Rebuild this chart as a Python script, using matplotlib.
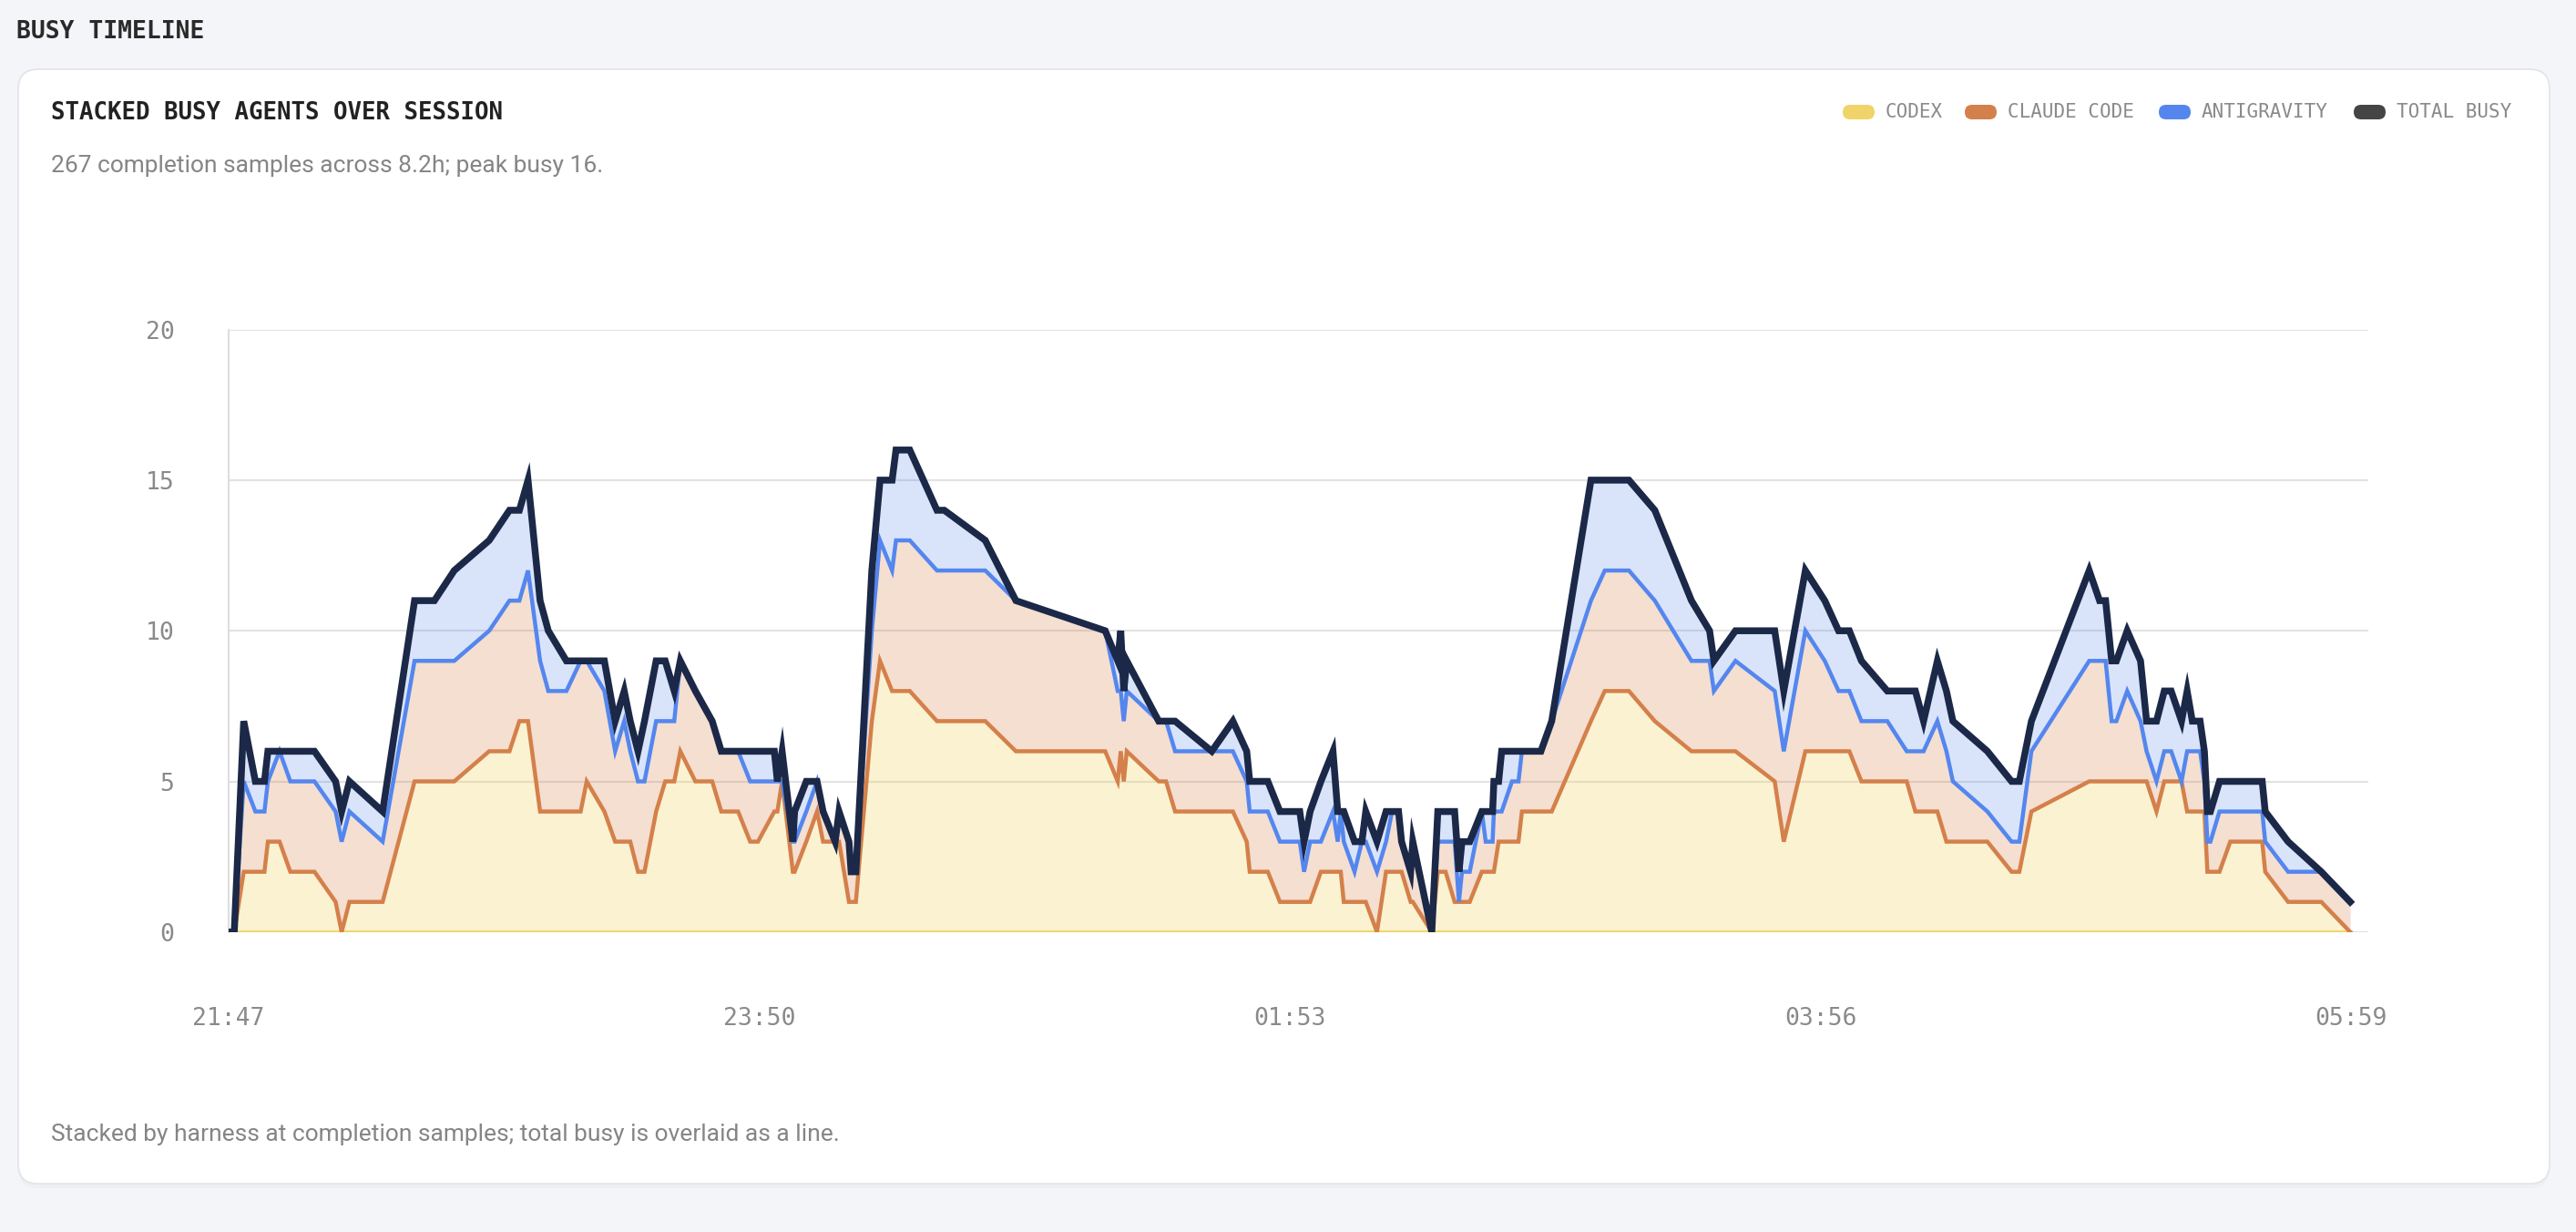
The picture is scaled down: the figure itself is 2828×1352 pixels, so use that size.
import matplotlib
matplotlib.use("Agg")  # headless
import matplotlib.pyplot as plt
from matplotlib.patches import FancyBboxPatch

W, H, DPI = 2828, 1352, 100

# completion samples, minutes after 21:47
minutes = [
    0.0, 1.3, 3.5, 6.2, 8.3, 9.1, 11.8, 14.3, 19.9, 24.8, 26.2, 28.0, 35.7, 43.1, 47.7, 52.3,
    60.4, 65.1, 67.4, 69.4, 72.2, 74.1, 78.3, 81.6, 83.0, 87.1, 89.6, 91.7, 93.1, 94.9, 96.4, 99.1,
    101.2, 103.3, 104.7, 108.2, 112.1, 114.2, 118.1, 120.9, 122.7, 126.5, 127.2, 128.3, 130.8, 131.2, 133.9, 136.4,
    137.8, 140.6, 141.5, 143.8, 144.3, 145.4, 149.1, 151.0, 153.8, 154.7, 157.9, 164.2, 165.9, 175.4, 182.5, 203.2,
    206.1, 206.8, 207.5, 208.2, 215.6, 217.3, 219.4, 227.9, 232.8, 236.0, 236.7, 240.9, 243.7, 248.3, 249.3, 250.7,
    253.2, 256.0, 257.1, 257.8, 258.5, 261.0, 262.7, 263.6, 266.2, 268.3, 269.7, 271.2, 271.9, 274.0, 274.5, 278.9,
    280.3, 282.1, 284.2, 285.2, 285.9, 287.7, 290.5, 291.4, 293.0, 293.3, 294.4, 295.1, 297.5, 299.0, 299.8, 304.2,
    306.7, 315.8, 319.0, 324.6, 330.6, 339.1, 343.3, 344.3, 349.3, 358.4, 360.5, 365.5, 370.0, 373.2, 375.7, 378.5,
    384.5, 389.0, 391.0, 392.9, 396.1, 398.2, 399.7, 407.7, 413.3, 415.1, 417.9, 431.3, 433.7, 435.1, 436.5, 437.6,
    440.1, 443.2, 444.6, 446.9, 448.7, 450.3, 452.7, 454.0, 455.2, 457.0, 458.0, 458.7, 459.4, 461.5, 464.0, 471.4,
    472.1, 477.4, 485.1, 491.8,
]

codex = [
    0, 0, 0, 0, 0, 0, 0, 0, 0, 0, 0, 0, 0, 0, 0, 0,
    0, 0, 0, 0, 0, 0, 0, 0, 0, 0, 0, 0, 0, 0, 0, 0,
    0, 0, 0, 0, 0, 0, 0, 0, 0, 0, 0, 0, 0, 0, 0, 0,
    0, 0, 0, 0, 0, 0, 0, 0, 0, 0, 0, 0, 0, 0, 0, 0,
    0, 0, 0, 0, 0, 0, 0, 0, 0, 0, 0, 0, 0, 0, 0, 0,
    0, 0, 0, 0, 0, 0, 0, 0, 0, 0, 0, 0, 0, 0, 0, 0,
    0, 0, 0, 0, 0, 0, 0, 0, 0, 0, 0, 0, 0, 0, 0, 0,
    0, 0, 0, 0, 0, 0, 0, 0, 0, 0, 0, 0, 0, 0, 0, 0,
    0, 0, 0, 0, 0, 0, 0, 0, 0, 0, 0, 0, 0, 0, 0, 0,
    0, 0, 0, 0, 0, 0, 0, 0, 0, 0, 0, 0, 0, 0, 0, 0,
    0, 0, 0, 0,
]

claude_code = [
    0, 0, 2, 2, 2, 3, 3, 2, 2, 1, 0, 1, 1, 5, 5, 5,
    6, 6, 7, 7, 4, 4, 4, 4, 5, 4, 3, 3, 3, 2, 2, 4,
    5, 5, 6, 5, 5, 4, 4, 3, 3, 4, 4, 5, 2, 2, 3, 4,
    3, 3, 3, 1, 1, 1, 7, 9, 8, 8, 8, 7, 7, 7, 6, 6,
    5, 6, 5, 6, 5, 5, 4, 4, 4, 3, 2, 2, 1, 1, 1, 1,
    2, 2, 2, 2, 1, 1, 1, 1, 0, 2, 2, 2, 2, 1, 1, 0,
    2, 2, 1, 1, 1, 1, 2, 2, 2, 2, 3, 3, 3, 3, 4, 4,
    4, 7, 8, 8, 7, 6, 6, 6, 6, 5, 3, 6, 6, 6, 6, 5,
    5, 5, 4, 4, 4, 3, 3, 3, 2, 2, 4, 5, 5, 5, 5, 5,
    5, 5, 5, 4, 5, 5, 5, 4, 4, 4, 4, 2, 2, 2, 3, 3,
    2, 1, 1, 0,
]

antigravity = [
    0, 0, 3, 2, 2, 2, 3, 3, 3, 3, 3, 3, 2, 4, 4, 4,
    4, 5, 4, 5, 5, 4, 4, 5, 4, 4, 3, 4, 3, 3, 3, 3,
    2, 2, 3, 3, 2, 2, 2, 2, 2, 1, 1, 0, 1, 1, 1, 1,
    1, 0, 1, 2, 1, 1, 3, 4, 4, 5, 5, 5, 5, 5, 5, 4,
    3, 2, 2, 2, 2, 2, 2, 2, 2, 2, 2, 2, 2, 2, 1, 2,
    1, 2, 1, 2, 2, 1, 2, 2, 2, 1, 2, 2, 1, 1, 2, 0,
    1, 1, 2, 0, 1, 1, 2, 1, 1, 2, 1, 1, 2, 2, 2, 2,
    3, 4, 4, 4, 4, 3, 3, 2, 3, 3, 3, 4, 3, 2, 2, 2,
    2, 1, 2, 2, 3, 3, 2, 1, 1, 1, 2, 4, 4, 4, 2, 2,
    3, 2, 1, 1, 1, 1, 0, 2, 2, 2, 1, 1, 1, 2, 1, 1,
    1, 1, 1, 1,
]

total_busy = [
    0, 0, 7, 5, 5, 6, 6, 6, 6, 5, 4, 5, 4, 11, 11, 12,
    13, 14, 14, 15, 11, 10, 9, 9, 9, 9, 7, 8, 7, 6, 7, 9,
    9, 8, 9, 8, 7, 6, 6, 6, 6, 6, 5, 6, 3, 4, 5, 5,
    4, 3, 4, 3, 2, 2, 12, 15, 15, 16, 16, 14, 14, 13, 11, 10,
    9, 10, 8, 9, 7, 7, 7, 6, 7, 6, 5, 5, 4, 4, 3, 4,
    5, 6, 4, 4, 4, 3, 3, 4, 3, 4, 4, 4, 3, 2, 3, 0,
    4, 4, 4, 2, 3, 3, 4, 4, 4, 5, 5, 6, 6, 6, 6, 6,
    7, 15, 15, 15, 14, 11, 10, 9, 10, 10, 8, 12, 11, 10, 10, 9,
    8, 8, 8, 7, 9, 8, 7, 6, 5, 5, 7, 12, 11, 11, 9, 9,
    10, 9, 7, 7, 8, 8, 7, 8, 7, 7, 6, 4, 4, 5, 5, 5,
    4, 3, 2, 1,
]

tick_minutes = [0, 123, 246, 369, 492]
tick_labels = ["21:47", "23:50", "01:53", "03:56", "05:59"]
y_ticks = [0, 5, 10, 15, 20]

legend_names = ["CODEX", "CLAUDE CODE", "ANTIGRAVITY", "TOTAL BUSY"]
legend_colors = ["#f0d46a", "#d4804a", "#5486ee", "#454545"]

YELLOW, ORANGE, BLUE, NAVY = "#f0d468", "#d4804a", "#5486ee", "#1b2847"
MONO = "DejaVu Sans Mono"
SANS = "Roboto"

# stacked tops
codex_top = list(codex)
claude_top = [a + b for a, b in zip(codex_top, claude_code)]
anti_top = [a + b for a, b in zip(claude_top, antigravity)]

fig = plt.figure(figsize=(W / DPI, H / DPI), dpi=DPI)
fig.patch.set_facecolor("#f4f5f8")

# page / card layer in pixel coordinates
bg = fig.add_axes([0, 0, 1, 1])
bg.set_xlim(0, W)
bg.set_ylim(H, 0)
bg.axis("off")
bg.add_patch(FancyBboxPatch((20, 80), 2779, 1224, boxstyle="round,pad=0,rounding_size=22",
                            fc="#000000", ec="none", alpha=0.025))
bg.add_patch(FancyBboxPatch((20, 76), 2779, 1223, boxstyle="round,pad=0,rounding_size=22",
                            fc="white", ec="#e3e5e9", lw=1.3))

bg.text(18, 35, "BUSY TIMELINE", family=MONO, weight="bold", fontsize=19,
        color="#2a2a2a", va="center", ha="left")
bg.text(56, 124, "STACKED BUSY AGENTS OVER SESSION", family=MONO, weight="bold",
        fontsize=18.5, color="#222222", va="center", ha="left")
bg.text(56, 182, "267 completion samples across 8.2h; peak busy 16.", family=SANS,
        fontsize=19, color="#858585", va="center", ha="left")
bg.text(56, 1245, "Stacked by harness at completion samples; total busy is overlaid as a line.",
        family=SANS, fontsize=19, color="#858585", va="center", ha="left")

# legend pills
legend_x = [2023, 2157, 2370, 2584]
for x0, name, col in zip(legend_x, legend_names, legend_colors):
    bg.add_patch(FancyBboxPatch((x0, 115), 35, 16, boxstyle="round,pad=0,rounding_size=8",
                                fc=col, ec="none"))
    bg.text(x0 + 47, 123, name, family=MONO, fontsize=15, color="#8a8a8a",
            va="center", ha="left")

# chart
x0_px, x1_px, y0_px, y1_px = 251, 2600, 1022.8, 361.6
ax = fig.add_axes([x0_px / W, 1 - y0_px / H, (x1_px - x0_px) / W, (y0_px - y1_px) / H])
ax.patch.set_alpha(0)
ax.set_xlim(0, 496)
ax.set_ylim(0, 20)

ax.fill_between(minutes, codex_top, claude_top, color=YELLOW, alpha=0.3, lw=0, zorder=2)
ax.fill_between(minutes, claude_top, anti_top, color=ORANGE, alpha=0.25, lw=0, zorder=2)
ax.fill_between(minutes, anti_top, total_busy, color=BLUE, alpha=0.22, lw=0, zorder=2)

ax.plot(minutes, codex_top, color=YELLOW, lw=3.4, zorder=3, solid_joinstyle="miter")
ax.plot(minutes, claude_top, color=ORANGE, lw=3.2, zorder=4, solid_joinstyle="miter")
ax.plot(minutes, anti_top, color=BLUE, lw=3.2, zorder=5, solid_joinstyle="miter")
ax.plot(minutes, total_busy, color=NAVY, lw=5.4, zorder=6, solid_joinstyle="miter")

ax.set_yticks(y_ticks)
ax.set_xticks(tick_minutes, tick_labels)
ax.grid(axis="y", color="#e2e2e2", lw=1.5, zorder=0)
ax.set_axisbelow(True)
for side in ("top", "right", "bottom"):
    ax.spines[side].set_visible(False)
ax.spines["left"].set_color("#dedede")
ax.spines["left"].set_linewidth(1.5)
ax.tick_params(axis="both", length=0, labelsize=19, labelcolor="#8a8a8a")
ax.tick_params(axis="x", pad=59)
ax.tick_params(axis="y", pad=43)
for lab in ax.get_xticklabels() + ax.get_yticklabels():
    lab.set_family(MONO)

fig.savefig("out.png", dpi=DPI, facecolor=fig.get_facecolor())
